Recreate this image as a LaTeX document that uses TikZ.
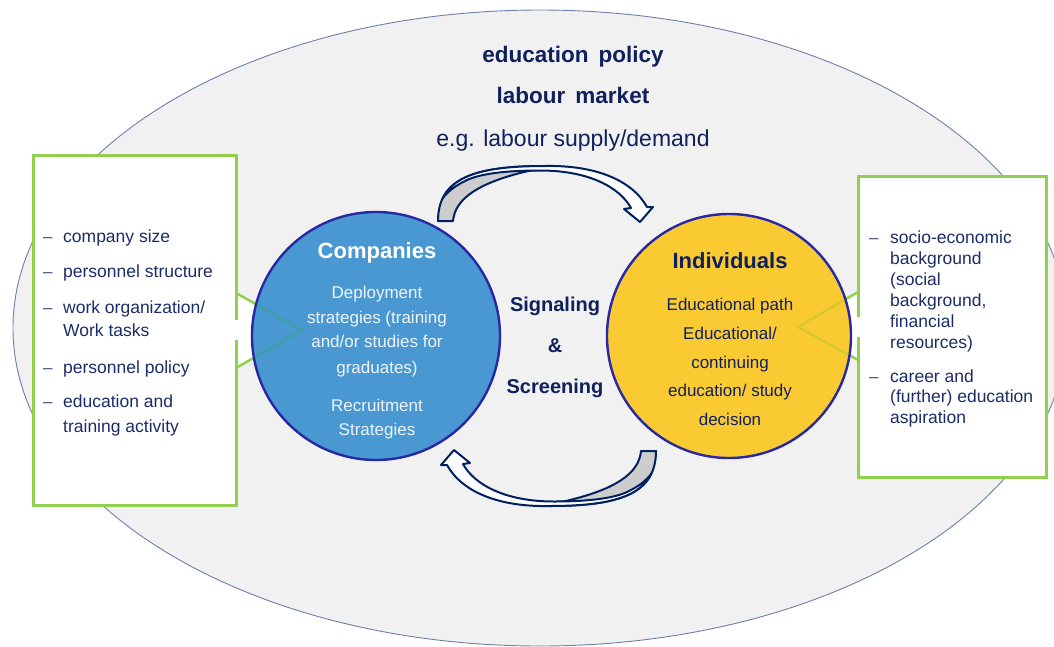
\documentclass[tikz,border=0pt]{standalone}
\usepackage{fontspec}
\setmainfont{Liberation Sans}
\definecolor{bgfill}{RGB}{241,241,241}
\definecolor{ellborder}{RGB}{110,128,170}
\definecolor{boxgreen}{RGB}{146,208,80}
\definecolor{compblue}{RGB}{74,152,210}
\definecolor{indyellow}{RGB}{250,202,50}
\definecolor{circleborder}{RGB}{40,40,165}
\definecolor{tealline}{RGB}{60,160,165}
\definecolor{oliveline}{RGB}{215,200,45}
\definecolor{titlenavy}{RGB}{16,32,92}
\definecolor{itemnavy}{RGB}{28,44,104}
\definecolor{arrownavy}{RGB}{0,32,96}
\definecolor{arrowgray}{RGB}{205,205,205}
\definecolor{paletext}{RGB}{238,244,250}
\begin{document}
\begin{tikzpicture}[x=1pt,y=-1pt,
  ttl/.style={font=\fontsize{22.5}{26}\selectfont\bfseries, text=titlenavy, anchor=base, inner sep=0},
  sub/.style={font=\fontsize{23}{27}\selectfont, text=titlenavy, anchor=base, inner sep=0},
  itm/.style={font=\fontsize{17.5}{21}\selectfont, text=itemnavy, anchor=base west, inner sep=0},
  dsh/.style={font=\fontsize{17}{21}\selectfont, text=itemnavy!85, anchor=base west, inner sep=0},
  ctitle/.style={font=\fontsize{22}{26}\selectfont\bfseries, anchor=base, inner sep=0},
  cbody/.style={font=\fontsize{17}{20}\selectfont, anchor=base, inner sep=0},
  sig/.style={font=\fontsize{20}{24}\selectfont\bfseries, text=titlenavy, anchor=base, inner sep=0},
  greenline/.style={draw=boxgreen, line width=3},
  arrowline/.style={draw=arrownavy, line width=2, line join=round},
  gbox/.style={fill=white, inner sep=0},
  bigcircle/.style={circle, draw=circleborder, line width=2.4, inner sep=0},
]
\useasboundingbox (0,0) rectangle (1054,646);
\fill[white] (0,0) rectangle (1054,646);
% context ellipse
\begin{scope}
  \clip (0,0) rectangle (1054,646);
  \draw[fill=bgfill, draw=ellborder, line width=0.9] (540,328) ellipse [x radius=527, y radius=318];
\end{scope}
% boxes
\node[gbox, minimum width=203, minimum height=350] (lbox) at (134.5,330) {};
\node[gbox, minimum width=188, minimum height=301] (rbox) at (952,326.5) {};
\fill[white] (236,293) -- (302,330) -- (236,368) -- cycle;
\fill[white] (858,292) -- (798,327) -- (858,360) -- cycle;
\draw[greenline] (236,320) -- (236,155) -- (33,155) -- (33,505) -- (236,505) -- (236,340);
\draw[greenline] (858,317) -- (858,176) -- (1046,176) -- (1046,477) -- (858,477) -- (858,337);
\draw[greenline, line width=2.5] (236,293) -- (302,330) -- (236,368);
\draw[greenline, line width=2.5] (858,292) -- (798,327) -- (858,360);
% circles
\node[bigcircle, fill=compblue, minimum size=248] (comp) at (376,336) {};
\node[bigcircle, fill=indyellow, minimum size=244] (indiv) at (729,336) {};
\begin{scope}
  \clip (comp.center) circle [radius=122.5];
  \draw[line width=2.5, draw=tealline] (236,293) -- (302,330) -- (236,368);
\end{scope}
\begin{scope}
  \clip (indiv.center) circle [radius=120.5];
  \draw[line width=2.5, draw=oliveline] (858,292) -- (798,327) -- (858,360);
\end{scope}
% curved arrows (second one is the first turned by 180 degrees)
\foreach \r in {0,180}{
  \begin{scope}[rotate around={\r:(547,336)}]
    \filldraw[fill=arrowgray, arrowline] (438,221) .. controls (438,178) and (475,166) .. (545,166) -- (545,169.5) -- (530,170.6) .. controls (480,182) and (455,198) .. (453,221) -- cycle;
    \filldraw[fill=white, arrowline] (442.4,198.8) .. controls (454.1,173.7) and (489,166) .. (545,166) .. controls (595,165) and (632,180) .. (647,207) -- (653,207) -- (640,222) -- (624,209) -- (631,208) .. controls (620,188) and (590,170.5) .. (540,170.5) .. controls (510,170.5) and (480,173) .. (465,181) .. controls (455,186) and (447,192) .. (442.4,198.8) -- cycle;
  \end{scope}
}
% top texts
\node[ttl] (t1) at (573,62) {education\hspace{10pt}policy};
\node[ttl] (t2) at (573,103) {labour\hspace{10pt}market};
\node[sub] (t3) at (573,146) {e.g. labour supply/demand};
% signaling
\node[sig] (s1) at (555,311) {Signaling};
\node[sig] (s2) at (555,352) {\&};
\node[sig] (s3) at (555,393) {Screening};
% companies
\node[ctitle, text=white] (ct) at (377,258) {Companies};
\node[cbody, text=paletext] (c1) at (377,298) {Deployment};
\node[cbody, text=paletext] (c2) at (377,323) {strategies (training};
\node[cbody, text=paletext] (c3) at (377,347) {and/or studies for};
\node[cbody, text=paletext] (c4) at (377,373) {graduates)};
\node[cbody, text=paletext] (c5) at (377,411) {Recruitment};
\node[cbody, text=paletext] (c6) at (377,435) {Strategies};
% individuals
\node[ctitle, text=titlenavy] (it) at (730,268) {Individuals};
\node[cbody, text=titlenavy] (i1) at (730,310) {Educational path};
\node[cbody, text=titlenavy] (i2) at (730,339) {Educational/};
\node[cbody, text=titlenavy] (i3) at (730,368) {continuing};
\node[cbody, text=titlenavy] (i4) at (730,396.5) {education/ study};
\node[cbody, text=titlenavy] (i5) at (730,425) {decision};
% left items
\node[dsh] (ld1) at (43,242) {\textendash};
\node[dsh] (ld2) at (43,277) {\textendash};
\node[dsh] (ld3) at (43,313) {\textendash};
\node[dsh] (ld4) at (43,373) {\textendash};
\node[dsh] (ld5) at (43,407) {\textendash};
\node[itm] (l1) at (63,242) {company size};
\node[itm] (l2) at (63,277) {personnel structure};
\node[itm] (l3) at (63,313) {work organization/};
\node[itm] (l3b) at (63,336) {Work tasks};
\node[itm] (l4) at (63,373) {personnel policy};
\node[itm] (l5) at (63,407) {education and};
\node[itm] (l5b) at (63,432) {training activity};
% right items
\node[dsh] (rd1) at (869,243) {\textendash};
\node[dsh] (rd2) at (869,382) {\textendash};
\node[itm] (r1) at (890,243) {socio-economic};
\node[itm] (r2) at (890,264) {background};
\node[itm] (r3) at (890,285) {(social};
\node[itm] (r4) at (890,306) {background,};
\node[itm] (r5) at (890,327) {financial};
\node[itm] (r6) at (890,348) {resources)};
\node[itm] (r7) at (890,382) {career and};
\node[itm] (r8) at (890,402) {(further) education};
\node[itm] (r9) at (890,423) {aspiration};
\end{tikzpicture}
\end{document}
